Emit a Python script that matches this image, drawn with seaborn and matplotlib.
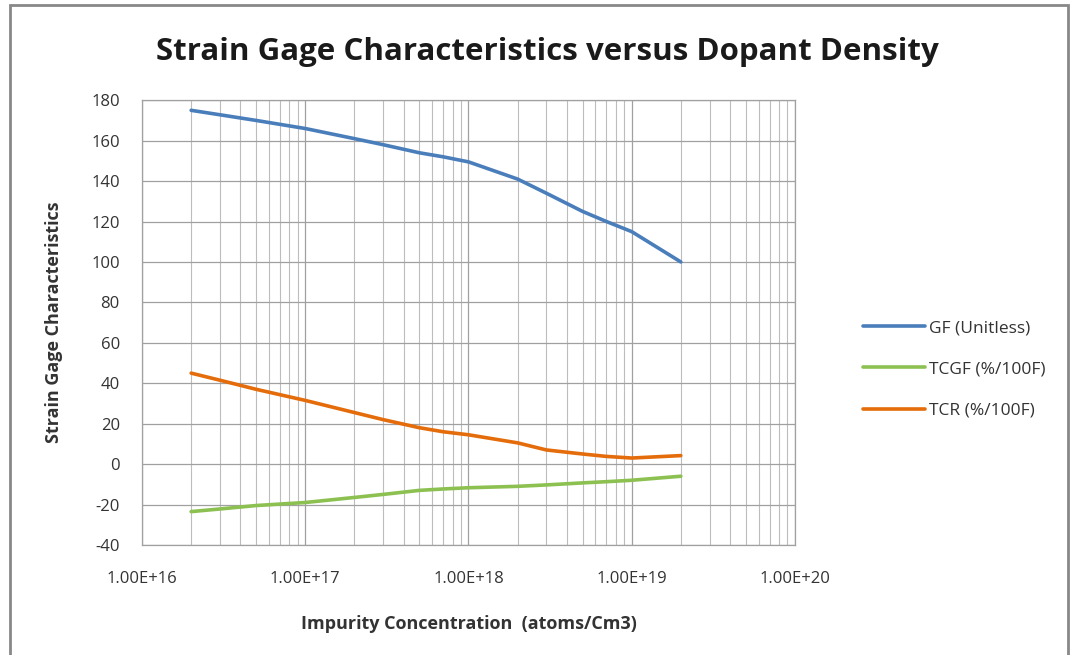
import pandas as pd
import matplotlib.pyplot as plt
import seaborn as sns
from matplotlib.patches import Rectangle
from matplotlib.ticker import LogLocator, FixedLocator

# Dados
concentracao = [2e16, 3e16, 5e16, 1e17, 2e17, 3e17, 5e17, 7e17, 1e18, 2e18,
                3e18, 5e18, 7e18, 1e19, 2e19]
gf = [175, 172.8, 170, 166, 161, 158, 154, 152, 149.5, 141,
      134, 125, 120, 115, 100]
tcgf = [-23.5, -22.2, -20.5, -19, -16.5, -15, -13, -12.3, -11.7, -11,
        -10.3, -9.3, -8.7, -8, -6]
tcr = [45, 41.5, 37, 31.5, 25.5, 22, 18, 16, 14.5, 10.5,
       7, 5, 3.8, 3, 4.2]

series = ['GF (Unitless)', 'TCGF (%/100F)', 'TCR (%/100F)']
cores = ['#4a7ebb', '#8cc151', '#e46c0a']

df = pd.concat([
    pd.DataFrame({'x': concentracao, 'y': vals, 'serie': nome})
    for nome, vals in zip(series, [gf, tcgf, tcr])
])

sns.set_style("white")
plt.rcParams['font.family'] = ['Open Sans', 'DejaVu Sans']
plt.rcParams['axes.unicode_minus'] = False

fig = plt.figure(figsize=(10.72, 6.55), dpi=100)
ax = fig.add_axes([0.1325, 0.168, 0.609, 0.679])

sns.lineplot(data=df, x='x', y='y', hue='serie', hue_order=series,
             palette=dict(zip(series, cores)), linewidth=2.6, ax=ax, sort=False)

ax.set_xscale('log')
ax.set_xlim(1e16, 1e20)
ax.set_ylim(-40, 180)
ax.yaxis.set_major_locator(FixedLocator(range(-40, 181, 20)))
ax.xaxis.set_major_locator(FixedLocator([1e16, 1e17, 1e18, 1e19, 1e20]))
ax.xaxis.set_minor_locator(LogLocator(base=10, subs=range(2, 10), numticks=20))
ax.set_xticklabels(['1.00E+16', '1.00E+17', '1.00E+18', '1.00E+19', '1.00E+20'])
ax.tick_params(axis='x', which='minor', length=0)
ax.tick_params(axis='both', which='major', length=6, color='#a0a0a0',
               labelsize=12, labelcolor='#333333')
ax.tick_params(axis='x', pad=13)
ax.tick_params(axis='y', pad=10)

ax.grid(True, which='major', color='#a0a0a0', linewidth=0.9)
ax.grid(True, which='minor', axis='x', color='#bdbdbd', linewidth=0.8)
for s in ax.spines.values():
    s.set_color('#a0a0a0')
    s.set_linewidth(0.9)

ax.set_xlabel('Impurity Concentration  (atoms/Cm3)', fontsize=13,
              fontweight='bold', color='#333333', labelpad=20)
ax.set_ylabel('Strain Gage Characteristics', fontsize=13,
              fontweight='bold', color='#333333', labelpad=20)

fig.text(0.511, 0.92, 'Strain Gage Characteristics versus Dopant Density',
         ha='center', va='center', fontsize=22.5, fontweight='bold', color='#1a1a1a')

ax.legend(loc='center left', bbox_to_anchor=(1.08, 0.395), frameon=False,
          fontsize=12.5, handlelength=3.6, labelspacing=1.45, handletextpad=0.2,
          labelcolor='#333333')

fig.patches.append(Rectangle((0.009, -0.01), 0.987, 1.002, transform=fig.transFigure,
                             fill=False, edgecolor='#888888', linewidth=2))

fig.savefig('out.png', dpi=100)
